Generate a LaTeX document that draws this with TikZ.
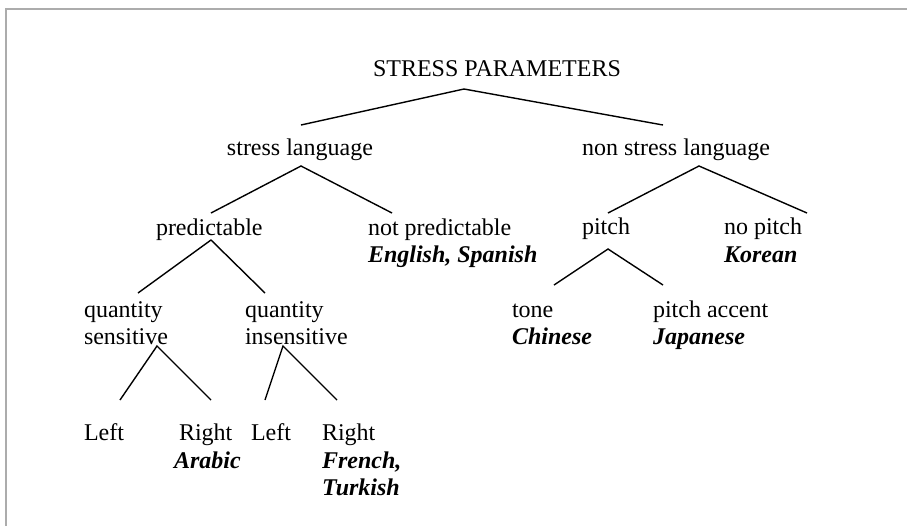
\documentclass[tikz,border=0pt]{standalone}
\usepackage{fontspec}
\setmainfont{Liberation Serif}
\begin{document}
\begin{tikzpicture}[x=0.5pt,y=-0.5pt,
  lbl/.style={anchor=base west,inner sep=0pt,outer sep=0pt,font=\fontsize{12pt}{13.5pt}\selectfont},
  lang/.style={lbl,font=\fontsize{12pt}{13.5pt}\selectfont\bfseries\itshape},
  branch/.style={draw=black,line width=0.7pt},
  frame/.style={draw=gray!65,line width=1pt}]
\useasboundingbox (0,0) rectangle (907,526);
\draw[frame] (6,526) -- (6,9) -- (907,9);

% labels
\node[lbl] (root) at (373,76) {STRESS PARAMETERS};
\node[lbl] (sl) at (227,155) {stress language};
\node[lbl] (nsl) at (582,155) {non stress language};
\node[lbl] (pred) at (156,235) {predictable};
\node[lbl] (npred) at (368,235) {not predictable};
\node[lang] (engspa) at (368,262) {English, Spanish};
\node[lbl] (pitch) at (582,234) {pitch};
\node[lbl] (nopitch) at (724,234) {no pitch};
\node[lang] (korean) at (724,262) {Korean};
\node[lbl] (qs1) at (84,317) {quantity};
\node[lbl] (qs2) at (84,344) {sensitive};
\node[lbl] (qi1) at (245,317) {quantity};
\node[lbl] (qi2) at (245,344) {insensitive};
\node[lbl] (tone) at (512,317) {tone};
\node[lang] (chinese) at (512,344) {Chinese};
\node[lbl] (pacc) at (653,317) {pitch accent};
\node[lang] (japanese) at (653,344) {Japanese};
\node[lbl] (sleft) at (84,440) {Left};
\node[lbl] (sright) at (179,440) {Right};
\node[lang] (arabic) at (174,468) {Arabic};
\node[lbl] (ileft) at (251,440) {Left};
\node[lbl] (iright) at (322,440) {Right};
\node[lang] (french) at (322,468) {French,};
\node[lang] (turkish) at (322,495) {Turkish};

% branch points
\coordinate (root-b) at (464,89);
\coordinate (sl-t) at (301,125);
\coordinate (nsl-t) at (663,125);
\coordinate (sl-b) at (301,166);
\coordinate (pred-t) at (211,213);
\coordinate (npred-t) at (392,213);
\coordinate (nsl-b) at (699,166);
\coordinate (pitch-t) at (608,213);
\coordinate (nopitch-t) at (807,213);
\coordinate (pred-b) at (211,240);
\coordinate (qs-t) at (138,293);
\coordinate (qi-t) at (265,293);
\coordinate (pitch-b) at (608,249);
\coordinate (tone-t) at (554,285);
\coordinate (pacc-t) at (663,285);
\coordinate (qs-b) at (157,346);
\coordinate (sleft-t) at (120,400);
\coordinate (sright-t) at (211,400);
\coordinate (qi-b) at (283,346);
\coordinate (ileft-t) at (265,400);
\coordinate (iright-t) at (337,400);

\draw[branch] (sl-t) -- (root-b) -- (nsl-t);
\draw[branch] (pred-t) -- (sl-b) -- (npred-t);
\draw[branch] (pitch-t) -- (nsl-b) -- (nopitch-t);
\draw[branch] (qs-t) -- (pred-b) -- (qi-t);
\draw[branch] (tone-t) -- (pitch-b) -- (pacc-t);
\draw[branch] (sleft-t) -- (qs-b) -- (sright-t);
\draw[branch] (ileft-t) -- (qi-b) -- (iright-t);
\end{tikzpicture}
\end{document}
